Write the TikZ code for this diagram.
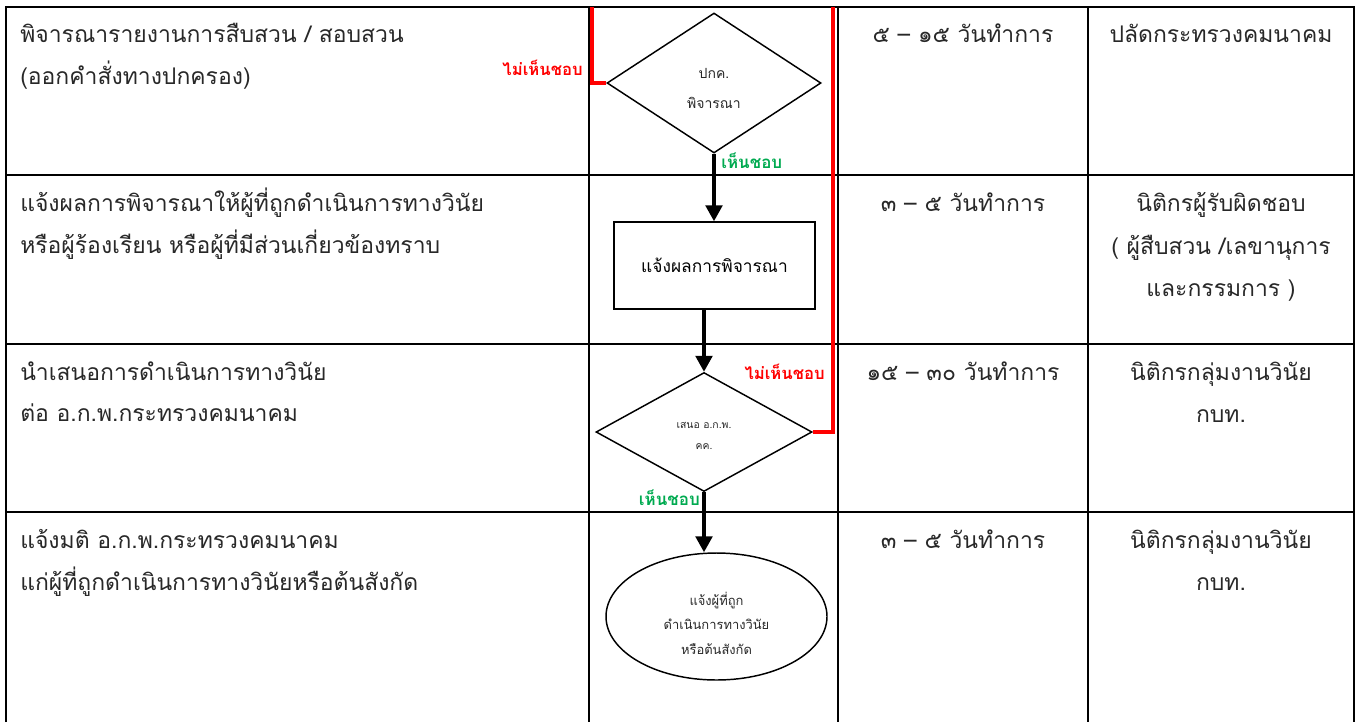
\documentclass[tikz,border=0pt]{standalone}
\usepackage{fontspec}
\newfontfamily\thaifont[Script=Thai]{Loma}
\usetikzlibrary{shapes.geometric,arrows.meta}
\definecolor{okgreen}{RGB}{0,170,80}
\definecolor{txt}{RGB}{40,40,40}
\begin{document}
\begin{tikzpicture}[x=0.75pt,y=-0.75pt,
  gridline/.style={line width=2.2pt},
  redline/.style={draw=red,line width=3pt},
  flow/.style={line width=2.6pt,-{Triangle[length=12pt,width=12.5pt]}},
  bigtxt/.style={font=\thaifont\fontsize{17.2}{20}\selectfont,text=txt,inner sep=0pt},
  lefttxt/.style={bigtxt,anchor=base west},
  midtxt/.style={bigtxt,anchor=base},
  shapebox/.style={draw,line width=1.1pt,inner sep=0pt},
  yes/.style={font=\thaifont\bfseries\fontsize{12.7}{14}\selectfont,text=okgreen,inner sep=0pt},
  no/.style={font=\thaifont\bfseries\fontsize{12.5}{14}\selectfont,text=red,inner sep=0pt}]
\useasboundingbox (0,0) rectangle (1360,722);
% table
\draw[gridline] (6,722) -- (6,7) -- (1354,7) -- (1354,722);
\foreach \yy in {175,344,512} \draw[gridline] (6,\yy) -- (1354,\yy);
\foreach \xx in {589,838,1088} \draw[gridline] (\xx,7) -- (\xx,722);
% left column
\node[lefttxt] (t11) at (20,42) {พิจารณารายงานการสืบสวน / สอบสวน};
\node[lefttxt] (t12) at (20,84) {(ออกคำสั่งทางปกครอง)};
\node[lefttxt] (t21) at (20,211) {แจ้งผลการพิจารณาให้ผู้ที่ถูกดำเนินการทางวินัย};
\node[lefttxt] (t22) at (20,253) {หรือผู้ร้องเรียน หรือผู้ที่มีส่วนเกี่ยวข้องทราบ};
\node[lefttxt] (t31) at (20,380) {นำเสนอการดำเนินการทางวินัย};
\node[lefttxt] (t32) at (20,421) {ต่อ อ.ก.พ.กระทรวงคมนาคม};
\node[lefttxt] (t41) at (20,548) {แจ้งมติ อ.ก.พ.กระทรวงคมนาคม};
\node[lefttxt] (t42) at (20,590) {แก่ผู้ที่ถูกดำเนินการทางวินัยหรือต้นสังกัด};
% duration column
\node[midtxt] (d1t) at (963,42) {๕ – ๑๕ วันทำการ};
\node[midtxt] (d2t) at (963,211) {๓ – ๕ วันทำการ};
\node[midtxt] (d3t) at (963,380) {๑๕ – ๓๐ วันทำการ};
\node[midtxt] (d4t) at (963,548) {๓ – ๕ วันทำการ};
% responsible column
\node[midtxt] (r1) at (1221,42) {ปลัดกระทรวงคมนาคม};
\node[midtxt] (r21) at (1221,211) {นิติกรผู้รับผิดชอบ};
\node[midtxt] (r22) at (1221,254) {( ผู้สืบสวน /เลขานุการ};
\node[midtxt] (r23) at (1221,296) {และกรรมการ )};
\node[midtxt] (r31) at (1221,380) {นิติกรกลุ่มงานวินัย};
\node[midtxt] (r32) at (1221,422) {กบท.};
\node[midtxt] (r41) at (1221,548) {นิติกรกลุ่มงานวินัย};
\node[midtxt] (r42) at (1221,590) {กบท.};
% flow shapes
\node[shapebox,diamond,minimum width=214*0.75pt,minimum height=140*0.75pt] (dia1) at (714,83) {};
\node[font=\thaifont\fontsize{10.5}{12}\selectfont,text=txt] (dia1a) at (714,73) {ปกค.};
\node[font=\thaifont\fontsize{10.5}{12}\selectfont,text=txt] (dia1b) at (714,103) {พิจารณา};
\node[shapebox,rectangle,minimum width=201*0.75pt,minimum height=87*0.75pt,
  font=\thaifont\fontsize{13}{15}\selectfont,text=black] (rect) at (714.5,265.5) {แจ้งผลการพิจารณา};
\node[shapebox,diamond,minimum width=216*0.75pt,minimum height=119*0.75pt] (dia2) at (704,432) {};
\node[font=\thaifont\fontsize{7.8}{9}\selectfont,text=txt] (dia2a) at (704,425) {เสนอ อ.ก.พ.};
\node[font=\thaifont\fontsize{7.8}{9}\selectfont,text=txt] (dia2b) at (704,447) {คค.};
\node[shapebox,ellipse,minimum width=221*0.75pt,minimum height=127*0.75pt] (ell) at (716.5,616.5) {};
\node[font=\thaifont\fontsize{9.7}{18.4}\selectfont,align=center,text=txt] (ellt) at (716.5,623)
  {แจ้งผู้ที่ถูก\\ดำเนินการทางวินัย\\หรือต้นสังกัด};
% connectors
\draw[flow] (dia1.south) -- (dia1.south |- rect.north);
\draw[flow] (dia2.north |- rect.south) -- (dia2.north);
\draw[flow] (dia2.south) -- (dia2.south |- ell.north);
\coordinate (top1) at (592,7);
\coordinate (top2) at (833,7);
\draw[redline] (dia1.west) -- (top1 |- dia1.west) -- (top1);
\draw[redline] (dia2.east) -- (top2 |- dia2.east) -- (top2);
% labels
\node[no,anchor=base east] (no1) at (583,75) {ไม่เห็นชอบ};
\node[yes,anchor=base west] (yes1) at (721,168) {เห็นชอบ};
\node[no,anchor=base east] (no2) at (825,379) {ไม่เห็นชอบ};
\node[yes,anchor=base east] (yes2) at (700,505) {เห็นชอบ};
\end{tikzpicture}
\end{document}
